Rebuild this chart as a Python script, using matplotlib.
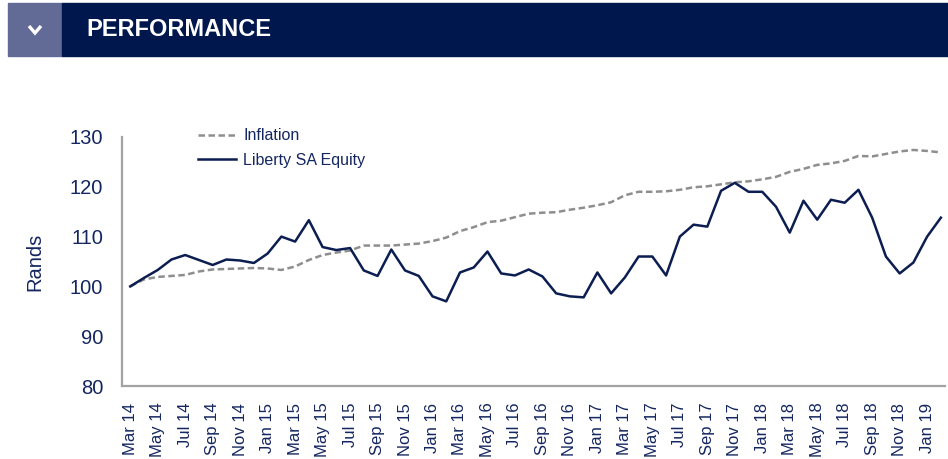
import matplotlib
matplotlib.use("Agg")
import matplotlib.pyplot as plt
from matplotlib.patches import Rectangle
from matplotlib.lines import Line2D

plt.rcParams['font.family'] = ['Liberation Sans', 'DejaVu Sans']

# ---- data ----
months = ["Mar 14", "Apr 14", "May 14", "Jun 14", "Jul 14", "Aug 14", "Sep 14", "Oct 14", "Nov 14", "Dec 14",
          "Jan 15", "Feb 15", "Mar 15", "Apr 15", "May 15", "Jun 15", "Jul 15", "Aug 15", "Sep 15", "Oct 15",
          "Nov 15", "Dec 15", "Jan 16", "Feb 16", "Mar 16", "Apr 16", "May 16", "Jun 16", "Jul 16", "Aug 16",
          "Sep 16", "Oct 16", "Nov 16", "Dec 16", "Jan 17", "Feb 17", "Mar 17", "Apr 17", "May 17", "Jun 17",
          "Jul 17", "Aug 17", "Sep 17", "Oct 17", "Nov 17", "Dec 17", "Jan 18", "Feb 18", "Mar 18", "Apr 18",
          "May 18", "Jun 18", "Jul 18", "Aug 18", "Sep 18", "Oct 18", "Nov 18", "Dec 18", "Jan 19", "Feb 19"]

inflation = [100.0, 101.4, 101.9, 102.1, 102.3, 103.0, 103.4, 103.5, 103.6, 103.7,
             103.6, 103.3, 104.0, 105.3, 106.3, 106.8, 107.2, 108.2, 108.2, 108.2,
             108.4, 108.6, 109.1, 109.8, 111.1, 111.9, 112.9, 113.2, 113.9, 114.6,
             114.8, 114.9, 115.4, 115.8, 116.3, 116.9, 118.3, 119.0, 119.0, 119.1,
             119.4, 119.9, 120.1, 120.5, 120.9, 121.1, 121.5, 122.0, 123.0, 123.6,
             124.4, 124.7, 125.2, 126.2, 126.1, 126.6, 127.1, 127.4, 127.2, 126.9]

liberty = [100.0, 101.7, 103.3, 105.4, 106.3, 105.3, 104.3, 105.4, 105.2, 104.7,
           106.6, 110.0, 109.0, 113.3, 107.9, 107.3, 107.7, 103.2, 102.1, 107.4,
           103.2, 102.1, 98.0, 97.0, 102.8, 103.8, 107.0, 102.6, 102.2, 103.4,
           102.0, 98.6, 98.0, 97.8, 102.8, 98.6, 101.8, 106.0, 106.0, 102.2,
           110.0, 112.4, 112.0, 119.2, 120.8, 119.0, 119.0, 116.0, 110.8, 117.2,
           113.4, 117.4, 116.8, 119.4, 113.8, 106.0, 102.6, 104.8, 110.0, 113.8]

yticks = [80, 90, 100, 110, 120, 130]
series_names = ["Inflation", "Liberty SA Equity"]
header_title = "PERFORMANCE"
ylabel = "Rands"

# ---- style ----
W, H = 948, 459
NAVY = "#0b1d51"
TEXT = "#142660"
GRAY = "#8e8e8e"

fig = plt.figure(figsize=(W / 100, H / 100), dpi=100)

# header bar
fig.patches.append(Rectangle((8 / W, 1 - 56 / H), (62 - 8) / W, 53 / H,
                             transform=fig.transFigure, color="#626a96", zorder=0))
fig.patches.append(Rectangle((62 / W, 1 - 56 / H), (W - 62) / W, 53 / H,
                             transform=fig.transFigure, color="#00174d", zorder=0))
fig.add_artist(Line2D([29 / W, 35 / W, 41 / W], [1 - 26 / H, 1 - 33 / H, 1 - 26 / H],
                      transform=fig.transFigure, color="white", lw=2.4,
                      solid_joinstyle="miter", solid_capstyle="butt"))
fig.text(86 / W, 1 - 30 / H, header_title, color="white", fontsize=17,
         fontweight="bold", va="center", ha="left")

ax = fig.add_axes([122 / W, 1 - 386 / H, (945 - 122) / W, (386 - 137) / H])
x = list(range(len(months)))
ax.plot(x, inflation, color=GRAY, lw=1.8, linestyle=(0, (2.6, 1.4)), label=series_names[0])
ax.plot(x, liberty, color=NAVY, lw=1.8, label=series_names[1])

ax.set_xlim(-0.6, 59.3)
ax.set_ylim(80, 130)
ax.set_yticks(yticks)
ax.set_xticks(x[::2])
ax.set_xticklabels(months[::2], rotation=90, fontsize=12, color=TEXT)
ax.tick_params(axis="y", length=0, pad=13.5, labelsize=14.5, labelcolor=TEXT)
ax.tick_params(axis="x", length=0, pad=12)
ax.set_ylabel(ylabel, fontsize=14.5, color=TEXT, labelpad=18)

for s in ["top", "right"]:
    ax.spines[s].set_visible(False)
for s in ["left", "bottom"]:
    ax.spines[s].set_color("#a3a3a3")
    ax.spines[s].set_linewidth(1.6)

leg = ax.legend(loc="upper left", bbox_to_anchor=(0.092, 1.035), frameon=False,
                fontsize=11.5, handlelength=2.4, handletextpad=0.45, labelspacing=0.6,
                borderpad=0, borderaxespad=0)
for t in leg.get_texts():
    t.set_color(TEXT)

fig.savefig("out.png", dpi=100, facecolor="white")
